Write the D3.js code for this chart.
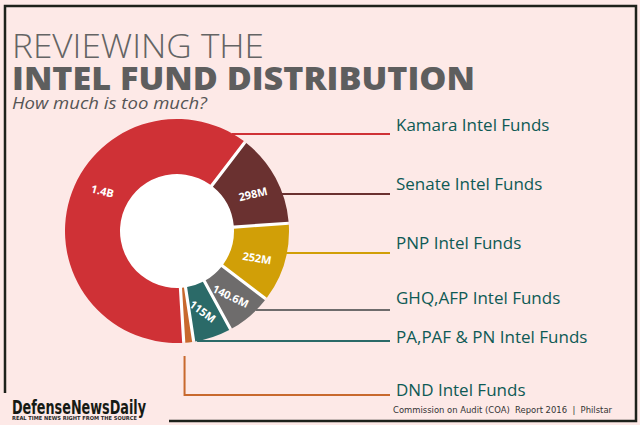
<!DOCTYPE html>
<html>
<head>
<meta charset="utf-8">
<script src="https://cdn.jsdelivr.net/npm/d3@7"></script>
<style>
  html, body { margin: 0; padding: 0; background: #fde9e7; }
  svg { display: block; }
</style>
</head>
<body>
<svg id="chart" width="640" height="425"></svg>
<script>
// Intel fund shares, in millions of pesos (DND is not labelled, value estimated)
var categories = ['Kamara Intel Funds', 'Senate Intel Funds', 'PNP Intel Funds',
  'GHQ,AFP Intel Funds', 'PA,PAF & PN Intel Funds', 'DND Intel Funds'];
var values = [1400, 298, 252, 140.6, 115, 20];
var valueLabels = ['1.4B', '298M', '252M', '140.6M', '115M', ''];
var colors = ['#cf3136', '#6a3130', '#d19f07', '#6e6c6c', '#2b6a68', '#c8692e'];

var width = 640;
var height = 425;
var cx = 177;
var cy = 231;
var outerR = 112;
var innerR = 57;

// legend layout (right-hand column)
var lineY = [134, 194, 253, 310, 341, 395];
var labelY = [131, 190, 249, 304, 343, 396];
var lineEndX = 390;
var labelX = 396;

var svg = d3.select('#chart');

function fit(sel, w) {
  sel.each(function () {
    var len = this.getComputedTextLength();
    if (Math.abs(len - w) > 1) {
      d3.select(this).attr('textLength', w).attr('lengthAdjust', 'spacingAndGlyphs');
    }
  });
  return sel;
}

// background + frame
svg.append('rect')
  .attr('width', width)
  .attr('height', height)
  .attr('fill', '#fde9e7');

svg.append('path')
  .attr('d', 'M5,393 L5,6 L636,6 L636,421 L169,421')
  .attr('fill', 'none')
  .attr('stroke', '#1d211b')
  .attr('stroke-width', 2.5);

// title block
fit(svg.append('text')
  .attr('x', 12)
  .attr('y', 57.5)
  .attr('font-family', 'Open Sans')
  .attr('font-weight', 300)
  .attr('font-size', 33)
  .attr('fill', '#646464')
  .text('REVIEWING THE'), 252);

fit(svg.append('text')
  .attr('x', 12)
  .attr('y', 90)
  .attr('font-family', 'Open Sans')
  .attr('font-weight', 800)
  .attr('font-size', 31)
  .attr('fill', '#5e5e5e')
  .text('INTEL FUND DISTRIBUTION'), 463);

fit(svg.append('text')
  .attr('x', 12)
  .attr('y', 109)
  .attr('font-family', 'Open Sans')
  .attr('font-style', 'italic')
  .attr('font-size', 16)
  .attr('fill', '#555555')
  .text('How much is too much?'), 195);

// donut
var total = d3.sum(values);
var kamaraEnd = 43 * Math.PI / 180;
var start = kamaraEnd - 2 * Math.PI * values[0] / total;

var pie = d3.pie()
  .sort(null)
  .value(function (d) { return d; })
  .startAngle(start)
  .endAngle(start + 2 * Math.PI)
  .padAngle(0.035);

var arc = d3.arc()
  .innerRadius(innerR)
  .outerRadius(outerR)
  .padRadius(90);

var slices = pie(values);

var defs = svg.append('defs');
var glow = defs.append('radialGradient')
  .attr('id', 'kamaraGlow')
  .attr('gradientUnits', 'userSpaceOnUse')
  .attr('cx', cx + 5)
  .attr('cy', cy - 88)
  .attr('r', 70);
glow.append('stop').attr('offset', 0).attr('stop-color', '#d94d55');
glow.append('stop').attr('offset', 1).attr('stop-color', colors[0]);

var donut = svg.append('g')
  .attr('transform', 'translate(' + cx + ',' + cy + ')');

// white under the gaps and in the hole
donut.append('circle')
  .attr('r', outerR - 1)
  .attr('fill', '#ffffff');

donut.selectAll('path.slice')
  .data(slices)
  .enter().append('path')
  .attr('class', 'slice')
  .attr('d', arc)
  .attr('fill', function (d, i) { return i === 0 ? 'url(#kamaraGlow)' : colors[i]; });

function labelPos(d) {
  var a = d.startAngle + (d.endAngle - d.startAngle) * 0.55;
  var r = (innerR + outerR) / 2;
  var deg = ((a * 180 / Math.PI) % 360 + 360) % 360;
  var rot = (deg - (deg < 180 ? 90 : 270)) * 0.5;
  return { x: r * Math.sin(a), y: -r * Math.cos(a), rot: rot };
}

donut.selectAll('text.value')
  .data(slices)
  .enter().append('text')
  .attr('class', 'value')
  .attr('transform', function (d) {
    var p = labelPos(d);
    return 'translate(' + p.x + ',' + p.y + ') rotate(' + p.rot + ')';
  })
  .attr('dy', '0.35em')
  .attr('text-anchor', 'middle')
  .attr('font-family', 'Open Sans')
  .attr('font-weight', 700)
  .attr('font-size', 11)
  .attr('fill', '#ffffff')
  .text(function (d, i) { return valueLabels[i]; });

// leader lines
var leaders = svg.append('g')
  .attr('fill', 'none')
  .attr('stroke-width', 2);

slices.forEach(function (d, i) {
  var y = lineY[i];
  var dy = y - cy;
  var path;
  if (Math.abs(dy) < outerR) {
    var x0 = cx + Math.sqrt(outerR * outerR - dy * dy) - 1;
    path = 'M' + x0 + ',' + y + 'H' + lineEndX;
  } else {
    var mid = (d.startAngle + d.endAngle) / 2;
    var xv = cx + (outerR - 40) * Math.sin(mid);
    path = 'M' + xv + ',' + (cy + outerR + 13) + 'V' + y + 'H' + lineEndX;
  }
  leaders.append('path')
    .attr('d', path)
    .attr('stroke', colors[i]);
});

// category labels
svg.selectAll('text.category')
  .data(categories)
  .enter().append('text')
  .attr('class', 'category')
  .attr('x', labelX)
  .attr('y', function (d, i) { return labelY[i]; })
  .attr('font-family', 'Open Sans')
  .attr('font-size', 17)
  .attr('fill', '#0e5a55')
  .text(function (d) { return d; });

// source
fit(svg.append('text')
  .attr('x', 393)
  .attr('y', 413)
  .attr('font-family', 'DejaVu Sans')
  .attr('font-size', 9)
  .attr('fill', '#333333')
  .style('white-space', 'pre')
  .text('Commission on Audit (COA)  Report 2016  |  Philstar'), 219);

// logo
fit(svg.append('text')
  .attr('x', 12)
  .attr('y', 414)
  .attr('font-family', 'Liberation Sans Narrow, DejaVu Sans Condensed, sans-serif')
  .attr('font-weight', 700)
  .attr('font-size', 19)
  .attr('fill', '#161a14')
  .text('DefenseNewsDaily'), 134);

fit(svg.append('text')
  .attr('x', 12)
  .attr('y', 420)
  .attr('font-family', 'Liberation Sans Narrow, DejaVu Sans Condensed, sans-serif')
  .attr('font-weight', 700)
  .attr('font-size', 5.5)
  .attr('fill', '#2a2a2a')
  .text('REAL TIME NEWS RIGHT FROM THE SOURCE'), 125);
</script>
</body>
</html>
